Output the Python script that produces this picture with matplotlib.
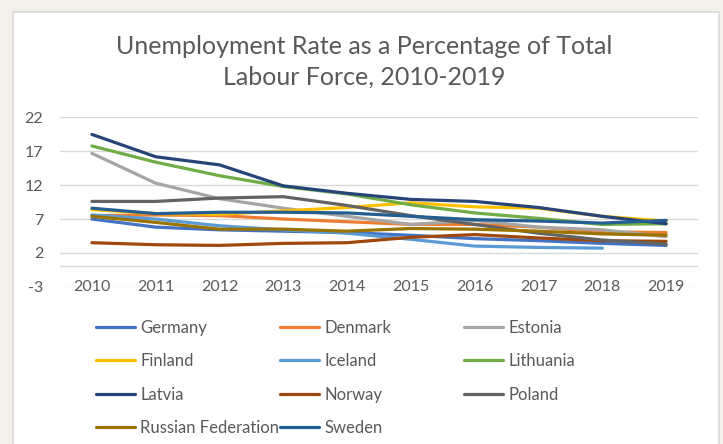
import numpy as np
import matplotlib.pyplot as plt
from matplotlib.patches import Rectangle

plt.rcParams["font.family"] = ["Lato", "DejaVu Sans"]
plt.rcParams["axes.unicode_minus"] = False

years = [2010, 2011, 2012, 2013, 2014, 2015, 2016, 2017, 2018, 2019]

germany = [7.0, 5.8, 5.4, 5.2, 5.0, 4.6, 4.1, 3.8, 3.4, 3.1]
denmark = [7.5, 7.6, 7.5, 7.0, 6.6, 6.2, 6.2, 5.8, 5.1, 5.0]
estonia = [16.7, 12.3, 10.0, 8.6, 7.4, 6.2, 6.8, 5.8, 5.4, 4.4]
finland = [8.4, 7.8, 7.7, 8.2, 8.7, 9.4, 8.8, 8.6, 7.4, 6.7]
iceland = [7.6, 7.0, 6.0, 5.4, 4.9, 4.0, 3.0, 2.8, 2.7, np.nan]
lithuania = [17.8, 15.4, 13.4, 11.8, 10.7, 9.1, 7.9, 7.1, 6.2, 6.3]
latvia = [19.5, 16.2, 15.0, 11.9, 10.8, 9.9, 9.6, 8.7, 7.4, 6.3]
norway = [3.5, 3.2, 3.1, 3.4, 3.5, 4.3, 4.7, 4.2, 3.8, 3.7]
poland = [9.6, 9.6, 10.1, 10.3, 9.0, 7.5, 6.2, 4.9, 3.9, 3.3]
russia = [7.4, 6.5, 5.5, 5.5, 5.2, 5.6, 5.5, 5.2, 4.8, 4.6]
sweden = [8.6, 7.8, 8.0, 8.0, 7.9, 7.4, 6.9, 6.7, 6.4, 6.8]

names = ["Germany", "Denmark", "Estonia", "Finland", "Iceland", "Lithuania",
         "Latvia", "Norway", "Poland", "Russian Federation", "Sweden"]
series = [germany, denmark, estonia, finland, iceland, lithuania,
          latvia, norway, poland, russia, sweden]
colors = ["#4472C4", "#ED7D31", "#A5A5A5", "#FFC000", "#5B9BD5", "#70AD47",
          "#264478", "#9E480E", "#636363", "#997300", "#255E91"]

yticks = [-3, 2, 7, 12, 17, 22]

W, H = 723, 444
fig = plt.figure(figsize=(W / 100, H / 100), dpi=100)
fig.patch.set_facecolor("#F3F0EC")
fig.patches.append(Rectangle((13 / W, -0.05), 706 / W, 1.05 - 12 / H,
                             transform=fig.transFigure, facecolor="white",
                             edgecolor="#D9D9D9", linewidth=1.2, zorder=-5))

ax = fig.add_axes([60 / W, 1 - 286.7 / H, 638 / W, 169.2 / H])
ax.set_facecolor("none")

x = np.arange(len(years))
lines = []
for name, vals, c in zip(names, series, colors):
    ln, = ax.plot(x, vals, color=c, linewidth=2.3, label=name,
                  solid_capstyle="round", solid_joinstyle="round")
    lines.append(ln)

ax.set_xlim(-0.5, len(years) - 0.5)
ax.set_ylim(-3, 22)
ax.set_yticks(yticks)
ax.set_xticks(x)
ax.set_xticklabels(years)
ax.axhline(0, color="#D9D9D9", linewidth=1, zorder=0.5)
ax.grid(axis="y", color="#D9D9D9", linewidth=1, zorder=0)
ax.set_axisbelow(True)
for s in ax.spines.values():
    s.set_visible(False)
ax.tick_params(length=0, labelsize=11.5, labelcolor="#595959")
ax.tick_params(axis="y", pad=12)
ax.tick_params(axis="x", pad=-5)

fig.text(364.5 / W, 1 - 46.5 / H, "Unemployment Rate as a Percentage of Total",
         ha="center", va="center", fontsize=18, color="#595959")
fig.text(364.5 / W, 1 - 77 / H, "Labour Force, 2010-2019",
         ha="center", va="center", fontsize=18, color="#595959")

col_x = [96, 280, 464]
for k in range(3):
    idx = list(range(k, len(names), 3))
    leg = fig.legend([lines[i] for i in idx], [names[i] for i in idx],
                     loc="upper left", bbox_to_anchor=(col_x[k] / W, 1 - 319.5 / H),
                     frameon=False, fontsize=12, labelcolor="#595959",
                     handlelength=2.35, handletextpad=0.3, labelspacing=1.05,
                     borderpad=0, borderaxespad=0)
    for h in leg.legend_handles:
        h.set_linewidth(2.3)

fig.savefig("out.png", dpi=100, facecolor=fig.get_facecolor())
